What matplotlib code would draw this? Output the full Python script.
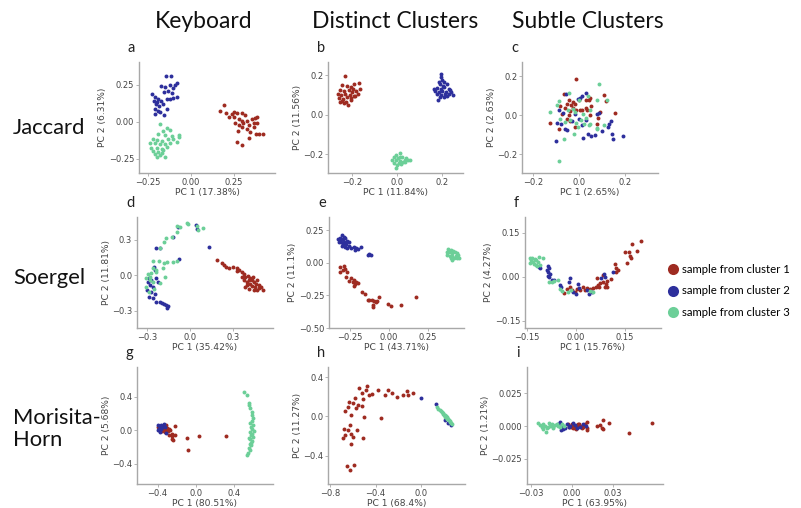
import numpy as np
import matplotlib
matplotlib.use("Agg")
import matplotlib.pyplot as plt
from matplotlib.lines import Line2D

RED = "#9e2b21"
BLUE = "#2d2f9c"
GREEN = "#6ccf98"

col_titles = ["Keyboard", "Distinct Clusters", "Subtle Clusters"]
row_titles = ["Jaccard", "Soergel", "Morisita-\nHorn"]
panel_letters = ["a", "b", "c", "d", "e", "f", "g", "h", "i"]
legend_labels = ["sample from cluster 1", "sample from cluster 2", "sample from cluster 3"]

x_labels = ["PC 1 (17.38%)", "PC 1 (11.84%)", "PC 1 (2.65%)",
            "PC 1 (35.42%)", "PC 1 (43.71%)", "PC 1 (15.76%)",
            "PC 1 (80.51%)", "PC 1 (68.4%)", "PC 1 (63.95%)"]
y_labels = ["PC 2 (6.31%)", "PC 2 (11.56%)", "PC 2 (2.63%)",
            "PC 2 (11.81%)", "PC 2 (11.1%)", "PC 2 (4.27%)",
            "PC 2 (5.68%)", "PC 2 (11.27%)", "PC 2 (1.21%)"]

# ---- panel a : Jaccard / Keyboard
a_red = [(0.191, 0.115), (0.171, 0.077), (0.206, 0.059), (0.249, 0.070), (0.268, 0.059),
         (0.298, 0.059), (0.317, 0.045), (0.253, 0.036), (0.278, 0.023), (0.298, 0.009),
         (0.327, 0.009), (0.356, 0.018), (0.375, 0.025), (0.385, 0.036), (0.259, -0.009),
         (0.282, -0.023), (0.307, -0.009), (0.340, -0.020), (0.366, -0.009), (0.385, -0.005),
         (0.274, -0.059), (0.298, -0.036), (0.327, -0.045), (0.366, -0.036), (0.395, -0.081),
         (0.418, -0.081), (0.381, -0.081), (0.337, -0.106), (0.268, -0.133), (0.298, -0.155),
         (0.342, -0.065), (0.239, 0.054), (0.220, 0.036)]
a_blue = [(-0.144, 0.311), (-0.115, 0.313), (-0.078, 0.266), (-0.091, 0.250), (-0.121, 0.250),
          (-0.150, 0.239), (-0.173, 0.243), (-0.101, 0.227), (-0.130, 0.212), (-0.156, 0.200),
          (-0.111, 0.194), (-0.226, 0.187), (-0.082, 0.167), (-0.206, 0.171), (-0.189, 0.153),
          (-0.212, 0.144), (-0.198, 0.135), (-0.175, 0.140), (-0.140, 0.153), (-0.121, 0.153),
          (-0.101, 0.160), (-0.202, 0.122), (-0.183, 0.110), (-0.163, 0.122), (-0.140, 0.086),
          (-0.208, 0.086), (-0.179, 0.070), (-0.206, 0.054), (-0.156, 0.047), (-0.191, 0.077)]
a_green = [(-0.179, -0.014), (-0.140, -0.043), (-0.160, -0.059), (-0.121, -0.054), (-0.189, -0.081),
           (-0.150, -0.086), (-0.111, -0.095), (-0.070, -0.088), (-0.218, -0.117), (-0.198, -0.122),
           (-0.169, -0.126), (-0.130, -0.117), (-0.101, -0.113), (-0.066, -0.104), (-0.208, -0.144),
           (-0.179, -0.151), (-0.150, -0.149), (-0.121, -0.144), (-0.228, -0.173), (-0.198, -0.178),
           (-0.169, -0.180), (-0.140, -0.171), (-0.218, -0.194), (-0.189, -0.203), (-0.160, -0.189),
           (-0.208, -0.216), (-0.179, -0.225), (-0.150, -0.234), (-0.198, -0.234), (-0.167, -0.212),
           (-0.078, -0.133), (-0.237, -0.144)]

# ---- panel b : Jaccard / Distinct
b_red = [(-0.230, 0.194), (-0.244, 0.149), (-0.222, 0.144), (-0.207, 0.137), (-0.190, 0.154),
         (-0.170, 0.160), (-0.255, 0.123), (-0.237, 0.120), (-0.215, 0.123), (-0.200, 0.113),
         (-0.181, 0.120), (-0.163, 0.127), (-0.264, 0.106), (-0.249, 0.101), (-0.230, 0.106),
         (-0.210, 0.100), (-0.193, 0.096), (-0.175, 0.106), (-0.258, 0.084), (-0.240, 0.079),
         (-0.222, 0.088), (-0.204, 0.084), (-0.185, 0.093), (-0.244, 0.069), (-0.225, 0.064),
         (-0.207, 0.073), (-0.234, 0.056), (-0.219, 0.046), (-0.252, 0.064), (-0.196, 0.127)]
b_blue = [(0.193, 0.204), (0.196, 0.191), (0.200, 0.177), (0.185, 0.166), (0.207, 0.166),
          (0.190, 0.154), (0.204, 0.147), (0.222, 0.154), (0.178, 0.132), (0.193, 0.130),
          (0.210, 0.137), (0.230, 0.130), (0.170, 0.120), (0.185, 0.115), (0.200, 0.120),
          (0.218, 0.115), (0.237, 0.123), (0.178, 0.103), (0.196, 0.101), (0.215, 0.106),
          (0.230, 0.105), (0.247, 0.101), (0.207, 0.091), (0.190, 0.090), (0.222, 0.093),
          (0.184, 0.073), (0.166, 0.127), (0.240, 0.113)]
b_green = [(-0.007, -0.206), (0.015, -0.194), (-0.015, -0.215), (0.003, -0.218), (0.022, -0.215),
           (0.041, -0.220), (0.056, -0.228), (-0.022, -0.231), (-0.003, -0.231), (0.015, -0.235),
           (0.033, -0.231), (0.047, -0.228), (-0.012, -0.245), (0.007, -0.245), (0.027, -0.240),
           (0.000, -0.257), (0.018, -0.252), (-0.007, -0.269), (0.012, -0.215), (0.037, -0.242)]

# ---- panel c : Jaccard / Subtle
c_red = [(-0.012, 0.186), (-0.064, 0.106), (-0.045, 0.079), (-0.026, 0.067), (-0.001, 0.075),
         (0.028, 0.079), (0.042, 0.079), (0.049, 0.089), (0.108, 0.101), (0.115, 0.072),
         (-0.052, 0.058), (-0.035, 0.053), (-0.016, 0.058), (0.003, 0.024), (0.028, 0.038),
         (0.052, 0.044), (-0.082, 0.044), (-0.060, 0.038), (-0.038, 0.021), (-0.012, 0.024),
         (0.013, 0.024), (0.035, 0.027), (0.093, 0.015), (0.154, 0.012), (-0.128, -0.041),
         (-0.089, -0.070), (-0.052, -0.019), (-0.038, -0.031), (-0.016, -0.062), (-0.045, -0.002),
         (0.047, -0.002), (0.079, -0.044), (-0.074, 0.003), (-0.026, 0.038), (0.082, -0.014)]
c_blue = [(-0.055, 0.109), (0.032, 0.113), (-0.006, 0.084), (0.013, 0.096), (-0.070, 0.010),
          (-0.089, 0.024), (-0.016, 0.007), (0.086, 0.010), (0.137, -0.031), (0.132, -0.044),
          (-0.096, -0.041), (-0.079, -0.048), (-0.052, -0.075), (-0.001, -0.019), (0.028, -0.027),
          (0.013, -0.053), (0.125, -0.062), (-0.100, -0.135), (-0.060, -0.070), (0.017, -0.116),
          (0.038, -0.099), (0.052, -0.109), (0.071, -0.104), (0.098, -0.082), (0.144, -0.096),
          (0.147, -0.125), (0.189, -0.106), (-0.029, -0.031), (0.079, 0.007), (0.003, 0.089)]
c_green = [(0.086, 0.161), (-0.128, 0.014), (-0.096, 0.050), (-0.089, 0.072), (-0.045, 0.113),
           (0.038, 0.096), (0.079, 0.079), (0.122, 0.079), (-0.016, 0.015), (-0.001, 0.079),
           (-0.049, 0.024), (-0.026, 0.032), (0.009, -0.024), (-0.012, -0.041), (0.047, -0.044),
           (0.028, -0.014), (0.079, -0.065), (-0.082, -0.019), (-0.060, -0.036), (-0.006, -0.062),
           (-0.020, -0.096), (0.042, -0.053), (0.076, -0.070), (0.108, -0.053), (-0.064, -0.121),
           (-0.089, -0.236), (-0.041, -0.024), (0.023, -0.044), (0.049, 0.027), (0.015, 0.007)]

# ---- panel d : Soergel / Keyboard
d_red = [(0.192, 0.130), (0.222, 0.102), (0.239, 0.088), (0.253, 0.071), (0.276, 0.059),
         (0.304, 0.071), (0.328, 0.065), (0.340, 0.042), (0.363, 0.025), (0.375, 0.008),
         (0.386, -0.014), (0.403, -0.003), (0.422, -0.020), (0.410, -0.042), (0.436, -0.040),
         (0.450, -0.054), (0.375, -0.040), (0.398, -0.057), (0.422, -0.071), (0.459, -0.071),
         (0.482, -0.082), (0.398, -0.085), (0.433, -0.088), (0.457, -0.099), (0.480, -0.105),
         (0.511, -0.125), (0.410, -0.116), (0.445, -0.127), (0.468, -0.125), (0.386, -0.099),
         (0.363, -0.014), (0.440, -0.014), (0.468, -0.042), (0.496, -0.096), (0.328, 0.037)]
d_blue = [(-0.082, 0.414), (0.042, 0.428), (0.052, 0.394), (-0.117, 0.329), (-0.239, 0.229),
          (-0.206, 0.235), (0.136, 0.238), (-0.075, 0.136), (-0.253, 0.074), (-0.244, 0.045),
          (-0.286, -0.025), (-0.269, -0.042), (-0.239, -0.025), (-0.222, -0.054), (-0.281, -0.082),
          (-0.258, -0.096), (-0.300, -0.125), (-0.269, -0.139), (-0.246, -0.156), (-0.286, -0.181),
          (-0.258, -0.195), (-0.234, -0.229), (-0.211, -0.229), (-0.192, -0.238), (-0.169, -0.252),
          (-0.152, -0.261), (-0.157, -0.275), (-0.183, -0.241), (-0.290, -0.054)]
d_green = [(-0.094, 0.422), (-0.070, 0.414), (-0.023, 0.442), (-0.012, 0.436), (-0.089, 0.371),
           (-0.129, 0.326), (-0.169, 0.320), (-0.183, 0.286), (-0.211, 0.235), (-0.258, 0.122),
           (-0.215, 0.122), (-0.183, 0.102), (-0.159, 0.116), (-0.117, 0.116), (-0.094, 0.122),
           (-0.187, 0.065), (-0.258, 0.059), (-0.293, 0.008), (-0.269, 0.017), (-0.234, 0.031),
           (-0.176, -0.011), (-0.281, -0.040), (-0.309, -0.020), (-0.206, -0.068), (-0.286, -0.144),
           (-0.304, -0.096), (-0.258, -0.054), (0.047, 0.422), (0.089, 0.399), (0.059, 0.385),
           (-0.239, 0.045), (-0.281, -0.011), (-0.248, -0.116)]

# ---- panel e : Soergel / Distinct
e_red = [(-0.317, -0.031), (-0.291, -0.023), (-0.296, -0.056), (-0.281, -0.048), (-0.313, -0.074),
         (-0.270, -0.069), (-0.274, -0.109), (-0.260, -0.140), (-0.245, -0.120), (-0.234, -0.145),
         (-0.228, -0.176), (-0.219, -0.160), (-0.211, -0.145), (-0.200, -0.158), (-0.174, -0.226),
         (-0.153, -0.239), (-0.138, -0.285), (-0.126, -0.288), (-0.111, -0.285), (-0.096, -0.290),
         (-0.087, -0.303), (-0.100, -0.323), (-0.104, -0.338), (-0.079, -0.293), (-0.062, -0.260),
         (-0.004, -0.318), (0.011, -0.331), (0.077, -0.326), (0.172, -0.262), (-0.223, -0.132)]
e_blue = [(-0.302, 0.211), (-0.317, 0.191), (-0.330, 0.181), (-0.313, 0.173), (-0.296, 0.181),
          (-0.281, 0.186), (-0.309, 0.160), (-0.287, 0.160), (-0.270, 0.165), (-0.260, 0.155),
          (-0.323, 0.155), (-0.296, 0.140), (-0.274, 0.140), (-0.257, 0.130), (-0.302, 0.130),
          (-0.281, 0.120), (-0.270, 0.109), (-0.245, 0.115), (-0.228, 0.122), (-0.211, 0.109),
          (-0.217, 0.094), (-0.202, 0.104), (-0.181, 0.120), (-0.126, 0.069), (-0.117, 0.061),
          (-0.132, 0.059), (-0.291, 0.196)]
e_green = [(0.379, 0.104), (0.394, 0.097), (0.411, 0.089), (0.385, 0.079), (0.400, 0.071),
           (0.421, 0.079), (0.436, 0.071), (0.372, 0.059), (0.389, 0.053), (0.406, 0.053),
           (0.428, 0.051), (0.443, 0.059), (0.394, 0.033), (0.415, 0.033), (0.432, 0.038),
           (0.406, 0.018), (0.368, 0.084), (0.449, 0.038)]

# ---- panel f : Soergel / Subtle
f_red = [(-0.037, -0.057), (-0.027, -0.042), (-0.018, -0.037), (-0.012, -0.046), (-0.003, -0.053),
         (0.004, -0.042), (0.022, -0.034), (0.028, -0.046), (0.035, -0.040), (0.043, -0.042),
         (0.053, -0.040), (0.061, -0.034), (0.068, -0.028), (0.073, -0.023), (0.084, -0.020),
         (0.092, -0.026), (0.094, -0.015), (0.089, -0.037), (0.065, -0.006), (0.082, 0.006),
         (0.106, -0.008), (0.119, 0.042), (0.124, 0.028), (0.129, 0.023), (0.124, 0.017),
         (0.150, 0.085), (0.157, 0.045), (0.165, 0.071), (0.167, 0.065), (0.173, 0.110),
         (0.188, 0.087), (0.198, 0.121), (0.163, 0.083), (0.094, -0.034), (0.071, -0.037),
         (0.012, -0.045)]
f_blue = [(-0.112, 0.034), (-0.085, 0.037), (-0.082, 0.031), (-0.088, 0.023), (-0.085, 0.015),
          (-0.080, 0.010), (-0.084, 0.003), (-0.074, -0.011), (-0.067, -0.011), (-0.082, -0.003),
          (-0.047, -0.028), (-0.044, -0.035), (-0.018, -0.006), (-0.020, -0.017), (-0.008, -0.053),
          (0.000, -0.058), (0.007, -0.026), (0.010, -0.040), (0.033, -0.046), (0.041, -0.058),
          (0.048, -0.051), (0.078, -0.006), (0.086, 0.008), (0.089, -0.001), (0.114, 0.017),
          (-0.108, 0.031)]
f_green = [(-0.141, 0.062), (-0.136, 0.057), (-0.130, 0.051), (-0.133, 0.065), (-0.125, 0.060),
           (-0.120, 0.055), (-0.128, 0.044), (-0.115, 0.051), (-0.122, 0.040), (-0.110, 0.040),
           (-0.118, 0.035), (-0.100, 0.062), (-0.112, 0.067), (-0.139, 0.045), (-0.082, -0.017),
           (-0.074, -0.019), (-0.067, -0.015), (-0.054, -0.011), (-0.049, -0.042), (-0.041, -0.049),
           (-0.023, -0.051), (-0.016, -0.045), (0.053, -0.053), (0.043, -0.049)]

# ---- panel g : Morisita-Horn / Keyboard
g_red = [(-0.395, 0.040), (-0.378, 0.020), (-0.360, 0.040), (-0.343, 0.020), (-0.325, 0.008),
         (-0.308, 0.000), (-0.350, -0.012), (-0.325, -0.020), (-0.290, -0.012), (-0.273, 0.000),
         (-0.371, -0.004), (-0.315, 0.028), (-0.280, 0.020), (-0.255, -0.040), (-0.280, -0.060),
         (-0.245, -0.067), (-0.220, -0.060), (-0.255, -0.099), (-0.238, -0.119), (-0.301, 0.028),
         (-0.220, 0.052), (-0.308, 0.060), (-0.091, -0.091), (0.035, -0.067), (0.315, -0.067),
         (-0.087, -0.230), (-0.343, 0.048)]
g_blue = [(-0.395, 0.060), (-0.378, 0.036), (-0.360, 0.012), (-0.336, 0.079), (-0.350, 0.044),
          (-0.325, 0.036), (-0.371, -0.020), (-0.395, 0.000), (-0.308, -0.028), (-0.360, 0.060),
          (-0.385, 0.020)]
g_green = [(0.503, 0.456), (0.538, 0.417), (0.559, 0.298), (0.566, 0.266), (0.587, 0.218),
           (0.601, 0.147), (0.594, 0.115), (0.573, 0.091), (0.601, 0.067), (0.584, 0.040),
           (0.594, 0.012), (0.608, -0.012), (0.594, -0.040), (0.584, -0.060), (0.601, -0.079),
           (0.573, -0.107), (0.594, -0.131), (0.566, -0.159), (0.584, -0.179), (0.559, -0.210),
           (0.573, -0.238), (0.549, -0.266), (0.538, -0.298), (0.580, -0.147), (0.566, -0.020),
           (0.587, 0.179), (0.559, -0.091), (0.559, 0.329)]

# ---- panel h : Morisita-Horn / Distinct
h_red = [(-0.543, 0.289), (-0.472, 0.316), (-0.484, 0.272), (-0.522, 0.238), (-0.455, 0.221),
         (-0.375, 0.272), (-0.287, 0.272), (-0.317, 0.221), (-0.258, 0.238), (-0.208, 0.194),
         (-0.155, 0.214), (-0.120, 0.255), (-0.111, 0.214), (-0.073, 0.235), (-0.630, 0.146),
         (-0.601, 0.133), (-0.639, 0.099), (-0.551, 0.119), (-0.513, 0.177), (-0.522, 0.102),
         (-0.572, 0.085), (-0.669, 0.051), (-0.619, 0.017), (-0.501, -0.010), (-0.355, -0.017),
         (-0.625, -0.085), (-0.677, -0.126), (-0.639, -0.139), (-0.560, -0.139), (-0.616, -0.180),
         (-0.666, -0.187), (-0.689, -0.221), (-0.601, -0.214), (-0.513, -0.221), (-0.616, -0.279),
         (-0.651, -0.503), (-0.589, -0.500), (-0.625, -0.544), (-0.434, 0.228), (-0.581, 0.187)]
h_blue = [(0.000, 0.187), (0.132, 0.129), (0.211, -0.034), (0.240, -0.068), (0.261, -0.085)]
h_green = [(0.138, 0.092), (0.152, 0.078), (0.167, 0.068), (0.176, 0.051), (0.185, 0.044),
           (0.196, 0.034), (0.202, 0.017), (0.211, 0.010), (0.220, 0.000), (0.226, -0.010),
           (0.232, -0.017), (0.240, -0.027), (0.246, -0.037), (0.252, -0.044), (0.258, -0.058),
           (0.264, -0.068), (0.270, -0.078), (0.191, 0.024), (0.208, -0.003), (0.226, -0.027)]

# ---- panel i : Morisita-Horn / Subtle
i_red = [(-0.0027, 0.0013), (-0.0010, -0.0008), (0.0000, 0.0013), (0.0010, 0.0000), (0.0022, -0.0013),
         (0.0034, 0.0008), (0.0046, 0.0018), (0.0059, -0.0003), (0.0073, -0.0018), (0.0083, 0.0003),
         (0.0095, 0.0013), (0.0112, 0.0033), (0.0112, -0.0013), (0.0112, -0.0033), (0.0029, -0.0023),
         (0.0005, -0.0018), (-0.0020, -0.0008), (0.0180, 0.0003), (0.0205, 0.0008), (0.0217, -0.0013),
         (0.0229, -0.0023), (0.0224, 0.0046), (0.0273, 0.0020), (0.0420, -0.0056), (0.0588, 0.0020),
         (0.0054, 0.0018), (0.0078, -0.0008)]
i_blue = [(-0.0088, 0.0028), (-0.0073, 0.0008), (-0.0063, -0.0013), (-0.0083, -0.0033), (-0.0039, 0.0013),
          (-0.0024, -0.0008), (-0.0015, 0.0003), (0.0005, 0.0020), (0.0022, 0.0008), (0.0039, -0.0013),
          (0.0059, -0.0005), (0.0083, 0.0018), (0.0102, 0.0003), (-0.0049, -0.0018), (-0.0100, 0.0013),
          (-0.0068, -0.0023)]
i_green = [(-0.0246, 0.0020), (-0.0234, 0.0008), (-0.0222, -0.0008), (-0.0210, 0.0013), (-0.0198, 0.0003),
           (-0.0185, -0.0013), (-0.0173, -0.0005), (-0.0161, 0.0003), (-0.0149, 0.0013), (-0.0137, -0.0008),
           (-0.0122, 0.0008), (-0.0190, -0.0043), (-0.0112, 0.0013), (-0.0100, 0.0003), (-0.0088, -0.0008),
           (-0.0076, 0.0013), (-0.0059, 0.0003), (-0.0166, 0.0020), (-0.0141, -0.0018), (-0.0215, -0.0023)]

panel_data = [
    (a_red, a_blue, a_green), (b_red, b_blue, b_green), (c_red, c_blue, c_green),
    (d_red, d_blue, d_green), (e_red, e_blue, e_green), (f_red, f_blue, f_green),
    (g_red, g_blue, g_green), (h_red, h_blue, h_green), (i_red, i_blue, i_green),
]

x_ticks = [[-0.25, 0, 0.25], [-0.2, 0, 0.2], [-0.2, 0, 0.2],
           [-0.3, 0, 0.3], [-0.25, 0, 0.25], [-0.15, 0, 0.15],
           [-0.4, 0, 0.4], [-0.8, -0.4, 0.0], [-0.03, 0, 0.03]]
y_ticks = [[-0.25, 0, 0.25], [-0.2, 0, 0.2], [-0.2, 0, 0.2],
           [-0.3, 0, 0.3], [-0.5, -0.25, 0, 0.25], [-0.15, 0, 0.15],
           [-0.4, 0, 0.4], [-0.4, 0, 0.4], [-0.025, 0, 0.025]]
x_fmt = ["%.2f", "%.1f", "%.1f", "%.1f", "%.2f", "%.2f", "%.1f", "%.1f", "%.2f"]
y_fmt = ["%.2f", "%.1f", "%.1f", "%.1f", "%.2f", "%.2f", "%.1f", "%.1f", "%.3f"]

x_lims = [(-0.30, 0.49), (-0.307, 0.293), (-0.248, 0.343),
          (-0.37, 0.58), (-0.385, 0.48), (-0.155, 0.26),
          (-0.617, 0.81), (-0.818, 0.386), (-0.033, 0.0666)]
y_lims = [(-0.345, 0.405), (-0.296, 0.266), (-0.297, 0.272),
          (-0.447, 0.495), (-0.5, 0.35), (-0.175, 0.203),
          (-0.64, 0.755), (-0.69, 0.505), (-0.0442, 0.045)]

W, H = 801, 508
# axes boxes in pixels: left, top, right, bottom
boxes = [(139, 62, 275, 173), (328, 62, 463, 173), (522, 62, 658, 173),
         (137, 217, 273, 328), (329, 217, 464, 328), (525, 217, 661, 328),
         (137, 367, 273, 484), (328, 367, 465, 484), (527, 367, 663, 484)]

title_font = ["Lato", "DejaVu Sans"]

fig = plt.figure(figsize=(W / 100, H / 100), dpi=100)
fig.patch.set_facecolor("white")

for k in range(9):
    l, t, r, b = boxes[k]
    ax = fig.add_axes([l / W, 1 - b / H, (r - l) / W, (b - t) / H])
    for pts, col in zip(panel_data[k], [RED, BLUE, GREEN]):
        arr = np.array(pts)
        ax.scatter(arr[:, 0], arr[:, 1], s=8, color=col, linewidths=0, zorder=3)
    ax.set_xlim(*x_lims[k])
    ax.set_ylim(*y_lims[k])
    ax.set_xticks(x_ticks[k])
    ax.set_yticks(y_ticks[k])
    ax.set_xticklabels([(x_fmt[k] % v).replace("-", "\u2212") for v in x_ticks[k]])
    ax.set_yticklabels([(y_fmt[k] % v).replace("-", "\u2212") for v in y_ticks[k]])
    for side in ["top", "right"]:
        ax.spines[side].set_visible(False)
    for side in ["left", "bottom"]:
        ax.spines[side].set_color("#a8a8a8")
        ax.spines[side].set_linewidth(1.0)
    ax.tick_params(labelsize=6, colors="#a8a8a8", labelcolor="#444444", length=2, width=0.6, pad=1.5)
    ax.set_xlabel(x_labels[k], fontsize=6.6, color="#444444", labelpad=1)
    ax.set_ylabel(y_labels[k], fontsize=6.6, color="#444444", labelpad=1)
    fig.text((l - 11) / W, 1 - (t - 14) / H, panel_letters[k], fontsize=10.5,
             family=title_font, color="#222222", ha="left", va="center")

col_x = [204, 395, 588]
for x, txt in zip(col_x, col_titles):
    fig.text(x / W, 1 - 22 / H, txt, fontsize=16.5, family=title_font,
             color="#111111", ha="center", va="center")

row_y = [128, 278, 429]
for y, txt in zip(row_y, row_titles):
    fig.text(13 / W, 1 - y / H, txt, fontsize=15.8, family=title_font,
             color="#111111", ha="left", va="center", linespacing=1.15)

handles = [Line2D([], [], marker="o", linestyle="", markersize=8, color=c, markeredgewidth=0)
           for c in [RED, BLUE, GREEN]]
fig.legend(handles, legend_labels, loc="center left", bbox_to_anchor=(662 / W, 1 - 291 / H),
           frameon=False, prop={"family": title_font, "size": 8.2}, handletextpad=0.3,
           labelspacing=0.95, handlelength=1.0, borderpad=0)

fig.savefig("out.png", dpi=100)
